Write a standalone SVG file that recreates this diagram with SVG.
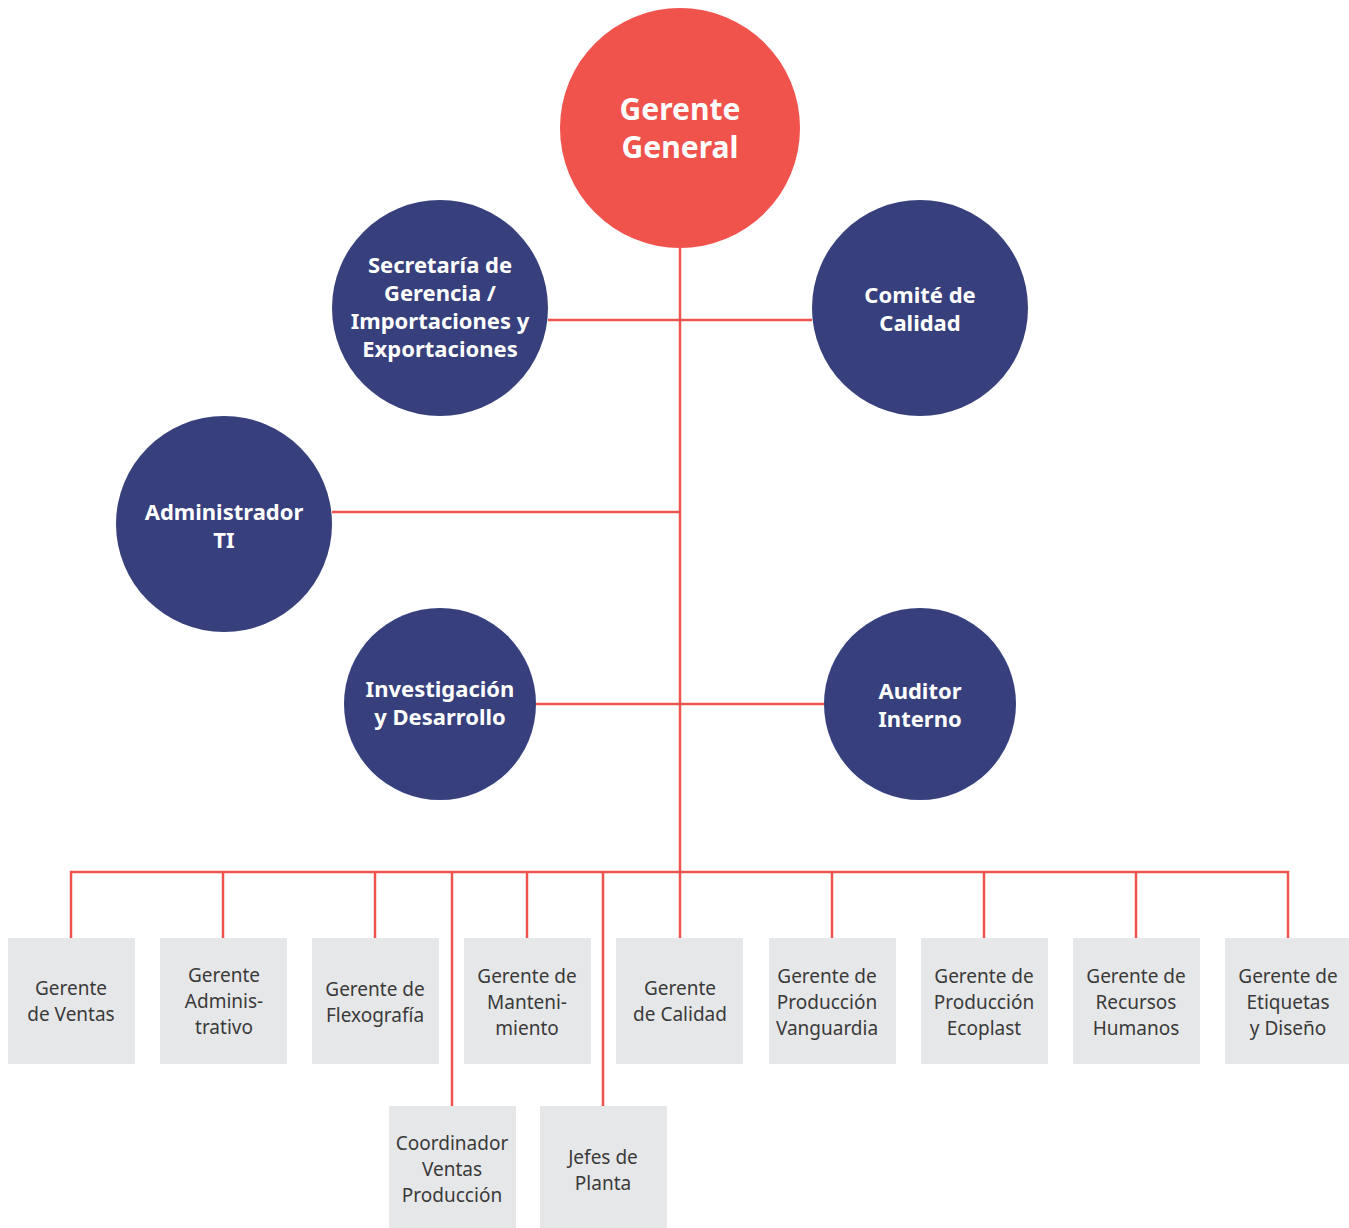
<svg xmlns="http://www.w3.org/2000/svg" width="1349" height="1228" viewBox="0 0 1349 1228">
<style>
.conn{stroke:#EF534D;stroke-width:2.5;fill:none}
.red{fill:#F0524C}
.navy{fill:#373F7C}
.box{fill:#E6E7E8}
.ct{font-family:"Noto Sans","Liberation Sans",sans-serif;font-weight:bold;fill:#fff;text-anchor:middle}
.c1{font-size:30px}
.c2{font-size:22px}
.bt{font-family:"Noto Sans","Liberation Sans",sans-serif;font-size:19px;fill:#3A3A3A;text-anchor:middle}
</style>
<rect width="1349" height="1228" fill="#fff"/>
<g id="connectors">
<line class="conn" x1="680" y1="248" x2="680" y2="938"/>
<line class="conn" x1="548" y1="320" x2="812" y2="320"/>
<line class="conn" x1="332" y1="512" x2="680" y2="512"/>
<line class="conn" x1="536" y1="704" x2="824" y2="704"/>
<polyline class="conn" points="71,938 71,872 1288,872 1288,938"/>
<line class="conn" x1="223" y1="872" x2="223" y2="938"/>
<line class="conn" x1="375" y1="872" x2="375" y2="938"/>
<line class="conn" x1="527" y1="872" x2="527" y2="938"/>
<line class="conn" x1="832" y1="872" x2="832" y2="938"/>
<line class="conn" x1="984" y1="872" x2="984" y2="938"/>
<line class="conn" x1="1136" y1="872" x2="1136" y2="938"/>
<line class="conn" x1="452" y1="872" x2="452" y2="1106"/>
<line class="conn" x1="603" y1="872" x2="603" y2="1106"/>
</g>
<g id="gerente-general">
<circle class="red" cx="680" cy="128" r="120"/>
<text class="ct c1" x="680" y="120">Gerente</text>
<text class="ct c1" x="680" y="158">General</text>
</g>
<g id="secretaria">
<circle class="navy" cx="440" cy="308" r="108"/>
<text class="ct c2" x="440" y="273">Secretaría de</text>
<text class="ct c2" x="440" y="301">Gerencia /</text>
<text class="ct c2" x="440" y="329">Importaciones y</text>
<text class="ct c2" x="440" y="357">Exportaciones</text>
</g>
<g id="comite">
<circle class="navy" cx="920" cy="308" r="108"/>
<text class="ct c2" x="920" y="303">Comité de</text>
<text class="ct c2" x="920" y="331">Calidad</text>
</g>
<g id="admin-ti">
<circle class="navy" cx="224" cy="524" r="108"/>
<text class="ct c2" x="224" y="520">Administrador</text>
<text class="ct c2" x="224" y="548">TI</text>
</g>
<g id="investigacion">
<circle class="navy" cx="440" cy="704" r="96"/>
<text class="ct c2" x="440" y="697">Investigación</text>
<text class="ct c2" x="440" y="725">y Desarrollo</text>
</g>
<g id="auditor">
<circle class="navy" cx="920" cy="704" r="96"/>
<text class="ct c2" x="920" y="699">Auditor</text>
<text class="ct c2" x="920" y="727">Interno</text>
</g>
<g id="ventas">
<rect class="box" x="8" y="938" width="127" height="126"/>
<text class="bt" x="71" y="995">Gerente</text>
<text class="bt" x="71" y="1021">de Ventas</text>
</g>
<g id="administrativo">
<rect class="box" x="160" y="938" width="127" height="126"/>
<text class="bt" x="224" y="982">Gerente</text>
<text class="bt" x="224" y="1008">Adminis-</text>
<text class="bt" x="224" y="1034">trativo</text>
</g>
<g id="flexografia">
<rect class="box" x="312" y="938" width="127" height="126"/>
<text class="bt" x="375" y="996">Gerente de</text>
<text class="bt" x="375" y="1022">Flexografía</text>
</g>
<g id="mantenimiento">
<rect class="box" x="464" y="938" width="127" height="126"/>
<text class="bt" x="527" y="983">Gerente de</text>
<text class="bt" x="527" y="1009">Manteni-</text>
<text class="bt" x="527" y="1035">miento</text>
</g>
<g id="calidad">
<rect class="box" x="616" y="938" width="127" height="126"/>
<text class="bt" x="680" y="995">Gerente</text>
<text class="bt" x="680" y="1021">de Calidad</text>
</g>
<g id="vanguardia">
<rect class="box" x="769" y="938" width="127" height="126"/>
<text class="bt" x="827" y="983">Gerente de</text>
<text class="bt" x="827" y="1009">Producción</text>
<text class="bt" x="827" y="1035">Vanguardia</text>
</g>
<g id="ecoplast">
<rect class="box" x="921" y="938" width="127" height="126"/>
<text class="bt" x="984" y="983">Gerente de</text>
<text class="bt" x="984" y="1009">Producción</text>
<text class="bt" x="984" y="1035">Ecoplast</text>
</g>
<g id="rrhh">
<rect class="box" x="1073" y="938" width="127" height="126"/>
<text class="bt" x="1136" y="983">Gerente de</text>
<text class="bt" x="1136" y="1009">Recursos</text>
<text class="bt" x="1136" y="1035">Humanos</text>
</g>
<g id="etiquetas">
<rect class="box" x="1225" y="938" width="124" height="126"/>
<text class="bt" x="1288" y="983">Gerente de</text>
<text class="bt" x="1288" y="1009">Etiquetas</text>
<text class="bt" x="1288" y="1035">y Diseño</text>
</g>
<g id="coordinador">
<rect class="box" x="389" y="1106" width="127" height="122"/>
<text class="bt" x="452" y="1150">Coordinador</text>
<text class="bt" x="452" y="1176">Ventas</text>
<text class="bt" x="452" y="1202">Producción</text>
</g>
<g id="jefes">
<rect class="box" x="540" y="1106" width="127" height="122"/>
<text class="bt" x="603" y="1164">Jefes de</text>
<text class="bt" x="603" y="1190">Planta</text>
</g>
</svg>
